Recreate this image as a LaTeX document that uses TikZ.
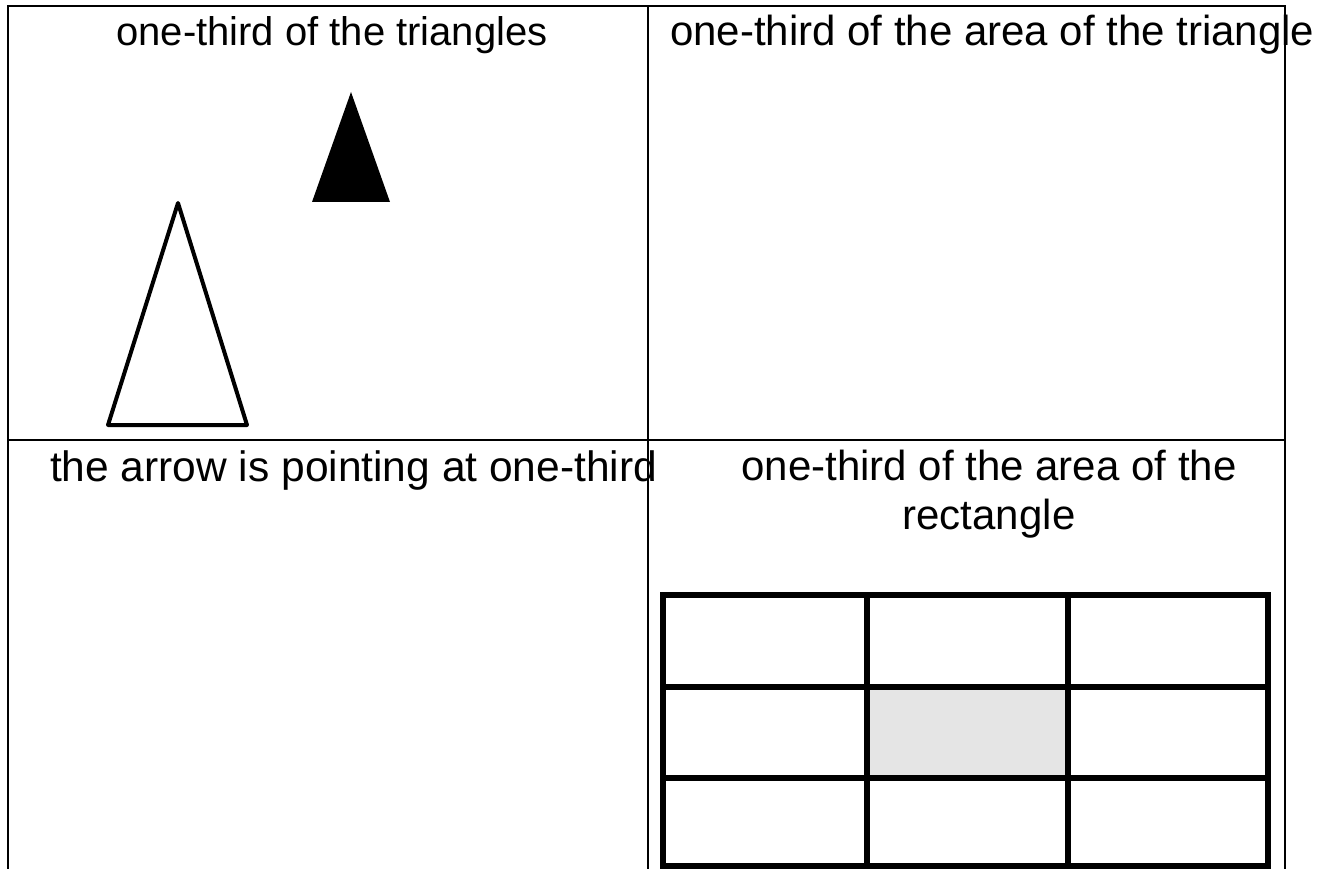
\documentclass[tikz,border=0pt]{standalone}
\usepackage{fontspec}
\setmainfont{Liberation Sans}
\begin{document}
\begin{tikzpicture}[x=1pt,y=-1pt,
  lbl/.style={inner sep=0pt,outer sep=0pt,font=\fontsize{42}{48.3}\selectfont},
  frameline/.style={line width=2pt},
  gridline/.style={line width=5.5pt},
  triline/.style={line width=4pt,line join=round}]
\useasboundingbox (0,0) rectangle (1338,869);
% texts
\node[lbl,anchor=base,font=\fontsize{40}{46}\selectfont] (t1) at (332,46) {one-third of the triangles};
\node[lbl,anchor=base west] (t2) at (670,46) {one-third of the area of the triangle};
\node[lbl,anchor=base west,font=\fontsize{42.5}{48.3}\selectfont] (t3) at (50,481) {the arrow is pointing at one-third};
\node[lbl,align=center,anchor=base] (t4) at (989,529) {one-third of the area of the\\rectangle};
% triangles
\draw[triline] (178,203) -- (247,425) -- (108,425) -- cycle;
\fill (351,92) -- (390,202) -- (312,202) -- cycle;
% grid
\fill[gray!20] (867,687) rectangle (1068,778);
\draw[gridline] (663,595) rectangle (1268,866);
\draw[gridline] (867,595) -- (867,866);
\draw[gridline] (1068,595) -- (1068,866);
\draw[gridline] (663,687) -- (1268,687);
\draw[gridline] (663,778) -- (1268,778);
% frame
\coordinate (tl) at (8,6);
\coordinate (tm) at (648,6);
\coordinate (tr) at (1285,6);
\coordinate (bl) at (8,869);
\coordinate (bm) at (648,869);
\coordinate (br) at (1285,869);
\coordinate (ml) at (8,440);
\coordinate (mr) at (1285,440);
\draw[frameline] (bl) -- (tl) -- (tr) -- (br);
\draw[frameline] (tm) -- (bm);
\draw[frameline] (ml) -- (mr);
\end{tikzpicture}
\end{document}
